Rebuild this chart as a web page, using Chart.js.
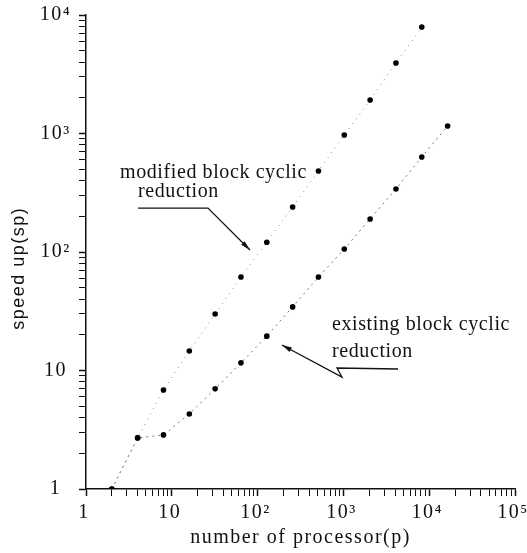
<!DOCTYPE html>
<html>
<head>
<meta charset="utf-8">
<script src="https://cdn.jsdelivr.net/npm/chart.js@4/dist/chart.umd.min.js"></script>
<style>
  body { margin: 0; background: #fff; }
  #wrap { width: 527px; height: 553px; }
</style>
</head>
<body>
<div id="wrap"><canvas id="myChart"></canvas></div>
<script>
// processors and measured speed up
const modifiedProcs = [2, 4, 8, 16, 32, 64, 128, 256, 512, 1024, 2048, 4096, 8192];
const modifiedSpeedup = [1, 2.7, 6.85, 14.6, 30, 61.5, 121, 240, 483, 971, 1918, 3936, 7917];
const existingProcs = [2, 4, 8, 16, 32, 64, 128, 256, 512, 1024, 2048, 4096, 8192, 16384];
const existingSpeedup = [1, 2.7, 2.86, 4.3, 7.0, 11.6, 19.5, 34.4, 61.5, 106, 190, 340, 634, 1157];

// tick labels, indexed by power of ten
const xTickLabels = ["1", "10", "10²", "10³", "10⁴", "10⁵"];
const yTickLabels = ["1", "10", "10²", "10³", "10⁴"];

// text annotations, anchored in data coordinates (p, sp)
const notes = [
  { text: "modified block cyclic", p: 2.49, sp: 421 },
  { text: "reduction", p: 4.04, sp: 291 },
  { text: "existing block cyclic", p: 736, sp: 22 },
  { text: "reduction", p: 736, sp: 13 }
];
// arrow paths, last point of each path gets the head
const arrows = [
  [[4.04, 235], [26.4, 235], [81.5, 104]],
  [[4330, 10.3], [842, 10.5], [963, 8.81], [192, 16.4]]
];

function toPoints(xs, ys) {
  return xs.map((x, i) => ({ x: x, y: ys[i] }));
}

function decadeLabel(labels) {
  return function (value) {
    const e = Math.log10(value);
    if (Math.abs(e - Math.round(e)) < 1e-9) return labels[Math.round(e)];
    return "";
  };
}

// keep only 1..9 x 10^n ticks (chart.js adds 1.5 x 10^n too)
function cleanTicks(scale) {
  scale.ticks = scale.ticks.filter(t => {
    const s = t.value / Math.pow(10, Math.floor(Math.log10(t.value) + 1e-9));
    return Math.abs(s - Math.round(s)) < 1e-6;
  });
}

const spacing = {
  id: "spacing",
  beforeDraw(chart) {
    chart.ctx.letterSpacing = "1.5px";
  }
};

const notesPlugin = {
  id: "notes",
  afterDatasetsDraw(chart) {
    const ctx = chart.ctx;
    const xs = chart.scales.x, ys = chart.scales.y;
    ctx.save();
    ctx.letterSpacing = "0.6px";
    ctx.fillStyle = "#111";
    ctx.font = "20px 'Liberation Serif'";
    ctx.textBaseline = "alphabetic";
    ctx.textAlign = "left";
    notes.forEach(n => {
      ctx.fillText(n.text, xs.getPixelForValue(n.p), ys.getPixelForValue(n.sp));
    });
    ctx.strokeStyle = "#111";
    ctx.lineWidth = 1.3;
    arrows.forEach(path => {
      const pts = path.map(q => [xs.getPixelForValue(q[0]), ys.getPixelForValue(q[1])]);
      ctx.beginPath();
      ctx.moveTo(pts[0][0], pts[0][1]);
      for (let i = 1; i < pts.length; i++) ctx.lineTo(pts[i][0], pts[i][1]);
      ctx.stroke();
      const a = pts[pts.length - 2], b = pts[pts.length - 1];
      const ang = Math.atan2(b[1] - a[1], b[0] - a[0]);
      ctx.beginPath();
      ctx.moveTo(b[0], b[1]);
      ctx.lineTo(b[0] - 10 * Math.cos(ang) + 2.5 * Math.sin(ang), b[1] - 10 * Math.sin(ang) - 2.5 * Math.cos(ang));
      ctx.lineTo(b[0] - 10 * Math.cos(ang) - 2.5 * Math.sin(ang), b[1] - 10 * Math.sin(ang) + 2.5 * Math.cos(ang));
      ctx.closePath();
      ctx.fill();
    });
    ctx.restore();
  }
};

const axisGrid = {
  display: true,
  drawOnChartArea: false,
  drawTicks: true,
  tickLength: 7,
  color: "#111",
  tickColor: "#111",
  tickWidth: c => (c.tick && c.tick.major ? 1.5 : 1)
};

const config = {
  type: "line",
  data: {
    datasets: [
      {
        label: "modified block cyclic reduction",
        data: toPoints(modifiedProcs, modifiedSpeedup),
        borderColor: "#888",
        borderWidth: 1,
        borderDash: [1, 5],
        pointRadius: 2.8,
        pointBackgroundColor: "#000",
        pointBorderWidth: 0,
        tension: 0
      },
      {
        label: "existing block cyclic reduction",
        data: toPoints(existingProcs, existingSpeedup),
        borderColor: "#777",
        borderWidth: 1,
        borderDash: [2, 4],
        pointRadius: 2.8,
        pointBackgroundColor: "#000",
        pointBorderWidth: 0,
        tension: 0
      }
    ]
  },
  options: {
    responsive: true,
    maintainAspectRatio: false,
    animation: false,
    layout: { padding: { top: 15, right: 12, left: 0, bottom: 0 } },
    plugins: { legend: { display: false }, tooltip: { enabled: false } },
    scales: {
      x: {
        type: "logarithmic",
        min: 1,
        max: 100000,
        grid: axisGrid,
        border: { display: true, color: "#111", width: 1.5 },
        ticks: {
          autoSkip: false,
          maxRotation: 0,
          padding: 5,
          labelOffset: -2,
          color: "#111",
          font: { family: "'Liberation Serif'", size: 20 },
          callback: decadeLabel(xTickLabels)
        },
        title: {
          display: true,
          text: "number of processor(p)",
          color: "#111",
          font: { family: "'Liberation Serif'", size: 20 },
          padding: { top: 0, bottom: 3 }
        },
        afterBuildTicks: cleanTicks,
        afterFit(scale) {
          scale.height = 64;
          scale.paddingLeft = 0;
          scale.paddingRight = 0;
        }
      },
      y: {
        type: "logarithmic",
        min: 1,
        max: 10000,
        grid: axisGrid,
        border: { display: true, color: "#111", width: 1.5 },
        ticks: {
          autoSkip: false,
          padding: 10,
          crossAlign: "center",
          color: "#111",
          font: { family: "'Liberation Serif'", size: 20 },
          callback: decadeLabel(yTickLabels)
        },
        title: {
          display: true,
          text: "speed up(sp)\u00a0\u00a0\u00a0\u00a0\u00a0",
          color: "#111",
          font: { family: "'Liberation Sans'", size: 18 },
          padding: { top: 8, bottom: 0 }
        },
        afterBuildTicks: cleanTicks,
        afterFit(scale) {
          scale.width = 86;
          scale.paddingTop = 0;
          scale.paddingBottom = 0;
        }
      }
    }
  },
  plugins: [spacing, notesPlugin]
};

const context = document.getElementById("myChart");
const myChart = new Chart(context, config);
</script>
</body>
</html>
